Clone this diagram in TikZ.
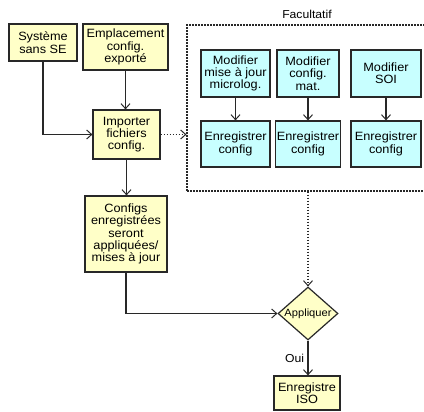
\documentclass[tikz,border=0pt]{standalone}
\usepackage{fontspec}
\setmainfont{Liberation Sans}[FakeStretch=1.06]
\usetikzlibrary{arrows.meta,shapes.geometric}
\definecolor{byel}{RGB}{255,255,200}
\definecolor{bcyan}{RGB}{200,255,255}
\definecolor{edge}{RGB}{40,40,40}
\tikzset{
  base/.style={draw=edge,line width=1.2pt,align=center,inner sep=1pt,font=\fontsize{12}{12.3}\selectfont},
  ybox/.style={base,fill=byel},
  cbox/.style={base,fill=bcyan},
  arr/.style={draw=edge,line width=1.2pt,-{Straight Barb[length=5pt,width=9pt,line width=1pt]}},
  darr/.style={arr,dash pattern=on 1.8pt off 1.2pt},
}
\begin{document}
\begin{tikzpicture}[x=1pt,y=-1pt]
\useasboundingbox (0,0) rectangle (424,412);
% optional frame
\node[draw=edge,line width=1.2pt,dash pattern=on 1.8pt off 1.2pt,minimum width=243pt,minimum height=166pt,inner sep=0] (fac) at (308.5,108) {};
\node[font=\fontsize{11.5}{12}\selectfont] (factxt) at (307,14) {Facultatif};
% yellow boxes
\node[ybox,minimum width=68pt,minimum height=37pt] (sys) at (43,42.5) {Système\\sans SE};
\node[ybox,minimum width=85pt,minimum height=46pt] (empl) at (125.5,47) {Emplacement\\config.\\exporté};
\node[ybox,minimum width=67pt,minimum height=49pt] (imp) at (126.5,134.5) {Importer\\fichiers\\config.};
\node[ybox,minimum width=82pt,minimum height=76pt] (cfg) at (126,234) {Configs\\enregistrées\\seront\\appliquées/\\mises à jour};
% cyan boxes
\node[cbox,minimum width=69pt,minimum height=47pt] (m1) at (235.5,73.5) {Modifier\\mise à jour\\microlog.};
\node[cbox,minimum width=69pt,minimum height=46pt] (e1) at (235.5,144) {Enregistrer\\config};
\node[cbox,minimum width=62pt,minimum height=47pt] (m2) at (308,73.5) {Modifier\\config.\\mat.};
\node[cbox,minimum width=62pt,minimum height=46pt] (e2) at (308,144) {Enregistrer\\config};
\node[cbox,minimum width=70pt,minimum height=47pt] (m3) at (386,73.5) {Modifier\\SOI};
\node[cbox,minimum width=70pt,minimum height=46pt] (e3) at (386,144) {Enregistrer\\config};
% decision
\node[diamond,draw=edge,line width=1.2pt,fill=byel,minimum width=60pt,minimum height=53pt,inner sep=0] (app) at (308,313.5) {};
\node[font=\fontsize{10.5}{11}\selectfont,inner sep=0] (apptxt) at (app.center) {Appliquer};
\node[ybox,minimum width=66pt,minimum height=34pt] (iso) at (307,393) {Enregistre\\ISO};
% connectors
\draw[arr] (sys.south) |- (imp.west);
\draw[arr] (empl.south) -- (empl.south |- imp.north);
\draw[arr] (imp.south) -- (imp.south |- cfg.north);
\draw[darr] (imp.east) -- (fac.west |- imp.east);
\draw[arr] (m1) -- (e1);
\draw[arr] (m2) -- (e2);
\draw[arr] (m3) -- (e3);
\draw[darr] (fac.south -| app.north) -- (app.north);
\draw[arr] (cfg.south) |- (app.west);
\draw[arr] (app.south) -- node[left,font=\fontsize{11.5}{12}\selectfont] (oui) {Oui} (iso.north -| app.south);
\end{tikzpicture}
\end{document}
